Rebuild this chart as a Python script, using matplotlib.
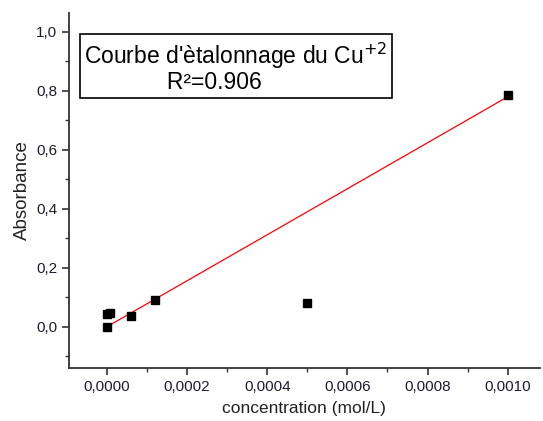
import matplotlib
matplotlib.use("Agg")
import matplotlib.pyplot as plt
import numpy as np
from matplotlib import ticker

plt.rcParams['font.family'] = ['Liberation Sans', 'DejaVu Sans']

# calibration points
concentration = [0.0, 0.0, 0.000008, 0.00006, 0.00012, 0.0005, 0.001]
absorbance = [0.0, 0.043, 0.047, 0.035, 0.092, 0.082, 0.786]

# linear fit
fit_slope = 780.0
fit_intercept = 0.0
fit_range = [0.0, 0.001]
r_squared = 0.906


def comma(v, pos, digits):
    return f"{v:.{digits}f}".replace(".", ",")


fig = plt.figure(figsize=(5.43, 4.21), dpi=100)
ax = fig.add_axes([0.127, 0.126, 0.867, 0.843])

xf = np.array(fit_range)
ax.plot(xf, fit_slope * xf + fit_intercept, color="red", lw=0.9, zorder=2)
ax.plot(concentration, absorbance, "s", color="black", ms=5.5, zorder=3)

ax.set_xlim(-0.000095, 0.00108)
ax.set_ylim(-0.14, 1.064)

ax.xaxis.set_major_locator(ticker.MultipleLocator(0.0002))
ax.xaxis.set_minor_locator(ticker.MultipleLocator(0.0001))
ax.yaxis.set_major_locator(ticker.MultipleLocator(0.2))
ax.yaxis.set_minor_locator(ticker.MultipleLocator(0.1))
ax.xaxis.set_major_formatter(ticker.FuncFormatter(lambda v, p: comma(v, p, 4)))
ax.yaxis.set_major_formatter(ticker.FuncFormatter(lambda v, p: comma(v, p, 1)))

for s in ["top", "right"]:
    ax.spines[s].set_visible(False)
for s in ["left", "bottom"]:
    ax.spines[s].set_color("#333333")
    ax.spines[s].set_linewidth(1.3)

ax.tick_params(which="major", direction="out", length=5, width=1.2, color="#333333",
               labelsize=11, labelcolor="#1c1c30")
ax.tick_params(which="minor", direction="out", length=3, width=1.0, color="#333333")

ax.set_xlabel("concentration (mol/L)", fontsize=12.5, color="#222222", labelpad=5)
ax.set_ylabel("Absorbance", fontsize=13.5, color="#222222", labelpad=4)

# legend box: second line indented with spaces, as in the Origin export
label = "Courbe d'ètalonnage du Cu$^{+2}$\n" + " " * 13 + "R²=" + f"{r_squared:.3f}"
ax.text(0.000322, 0.881, label,
        fontsize=16.5, ha="center", va="center", linespacing=1.0, multialignment="left",
        bbox=dict(boxstyle="square,pad=0.2", fc="white", ec="black", lw=1.2))

fig.savefig("out.png", dpi=100)
